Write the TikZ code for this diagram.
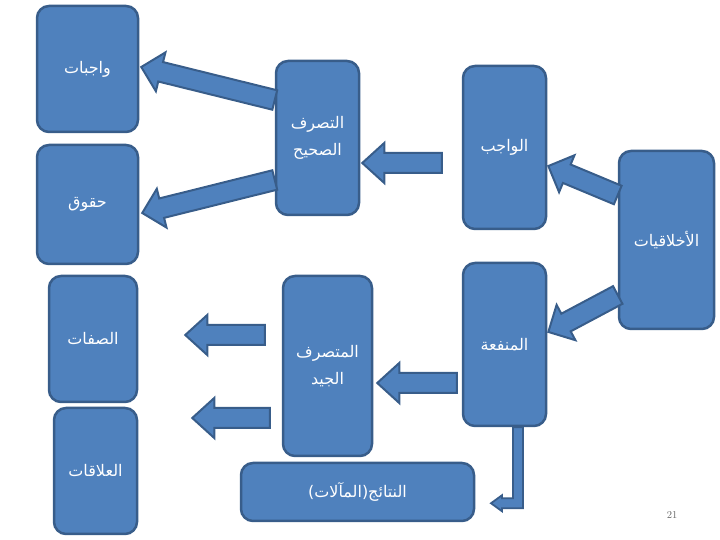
\documentclass[tikz,border=0pt]{standalone}
\usepackage{fontspec}
\usetikzlibrary{calc}
\TeXXeTstate=1
\newfontfamily\arabicfont[Script=Arabic]{DejaVu Sans}
\definecolor{boxfill}{HTML}{4F81BD}
\definecolor{boxline}{HTML}{385D8A}
\newcommand\blockarr[5]{%
  \path[barrow] let \p1=(#1), \p2=(#2), \n1={atan2(\y2-\y1,\x2-\x1)}, \n2={veclen(\x2-\x1,\y2-\y1)} in
  [shift={(\p1)}, rotate=\n1] (0,-#3) -- (\n2-#5,-#3) -- (\n2-#5,-#4) -- (\n2,0) -- (\n2-#5,#4) -- (\n2-#5,#3) -- (0,#3) -- cycle;}
\begin{document}
\begin{tikzpicture}[x=1pt,y=1pt,
  box/.style={draw=boxline, fill=boxfill, line width=2.5pt, rounded corners=12pt, inner sep=0pt, text=white,
    font=\arabicfont\fontsize{16}{27}\selectfont, align=center},
  barrow/.style={draw=boxline, fill=boxfill, line width=2pt, line join=miter}]
\useasboundingbox (0,0) rectangle (720,540);
% boxes
\node[box, minimum width=101, minimum height=126] (wajibat) at (87.5,471) {\beginR واجبات\endR};
\node[box, minimum width=101, minimum height=119] (huquq) at (87.5,335.5) {\beginR حقوق\endR};
\node[box, minimum width=83, minimum height=154] (tasarruf) at (317.5,402) {\beginR التصرف\endR\\\beginR الصحيح\endR};
\node[box, minimum width=83, minimum height=163] (wajib) at (504.5,392.5) {\beginR الواجب\endR};
\node[box, minimum width=95, minimum height=178] (akhlaq) at (666.5,300) {\beginR الأخلاقيات\endR};
\node[box, minimum width=83, minimum height=163] (manfaa) at (504.5,195.5) {\beginR المنفعة\endR};
\node[box, minimum width=89, minimum height=180] (mutasarrif) at (327.5,174) {\beginR المتصرف\endR\\\beginR الجيد\endR};
\node[box, minimum width=233, minimum height=58] (nataij) at (357.5,48) {\mbox{)}\mbox{\beginR المآلات\endR}\mbox{(}\mbox{\beginR النتائج\endR}};
\node[box, minimum width=88, minimum height=126] (sifat) at (93,201) {\beginR الصفات\endR};
\node[box, minimum width=83, minimum height=126] (alaqat) at (95.5,69) {\beginR العلاقات\endR};
\node[text=gray!80!black, font=\fontsize{10.5}{12}\selectfont] (pnum) at (672,25) {21};
% arrow end points
\coordinate (a1s) at ($(tasarruf.west)+(0,38)$);
\coordinate (a1e) at ($(wajibat.east)+(2,2)$);
\coordinate (a2s) at ($(tasarruf.west)+(0,-42)$);
\coordinate (a2e) at ($(huquq.east)+(3,-8.5)$);
\coordinate (a3s) at ($(wajib.west)+(-20,-15.5)$);
\coordinate (a3e) at ($(tasarruf.east)+(2,-25)$);
\coordinate (a4s) at ($(akhlaq.west)+(0,45)$);
\coordinate (a4e) at ($(wajib.east)+(1,-18.5)$);
\coordinate (a5s) at ($(akhlaq.west)+(0,-55)$);
\coordinate (a5e) at ($(manfaa.east)+(1,12.5)$);
\coordinate (a6s) at ($(manfaa.west)+(-5,-38.5)$);
\coordinate (a6e) at ($(mutasarrif.east)+(4,-17)$);
\coordinate (a7s) at ($(mutasarrif.west)+(-17,31)$);
\coordinate (a7e) at ($(sifat.east)+(47,4)$);
\coordinate (a8s) at ($(mutasarrif.west)+(-12,-52)$);
\coordinate (a8e) at ($(alaqat.east)+(54,53)$);
% block arrows
\blockarr{a1s}{a1e}{10}{20}{20}
\blockarr{a2s}{a2e}{10}{20}{20}
\blockarr{a3s}{a3e}{10}{20}{22}
\blockarr{a4s}{a4e}{10}{20}{20}
\blockarr{a5s}{a5e}{10}{20}{20}
\blockarr{a6s}{a6e}{10}{20}{22}
\blockarr{a7s}{a7e}{10}{20}{22}
\blockarr{a8s}{a8e}{10}{20}{22}
% bent arrow from manfaa
\path[barrow, line width=1.8pt] ($(manfaa.south)+(8.5,0)$) coordinate (b0) -- ++(0,-71) -- ++(-11,0) -- ++(0,3) -- ++(-11,-8) -- ++(11,-8) -- ++(0,3) -- ++(21,0) -- ($(manfaa.south)+(18.5,0)$) -- cycle;
\end{tikzpicture}
\end{document}
